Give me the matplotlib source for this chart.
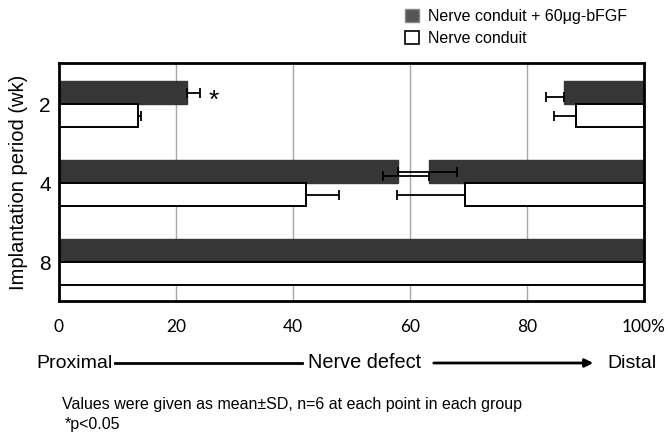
import matplotlib
matplotlib.use("Agg")
import matplotlib.pyplot as plt
from matplotlib.patches import Patch

plt.rcParams['font.family'] = ['Liberation Sans', 'DejaVu Sans']

# implantation period (wk)
periods = ["2", "4", "8"]

# regenerated length from the proximal stump (% of defect) and SD
bfgf_prox = [21.8, 58.0, 100.0]
bfgf_prox_sd = [2.3, 10.0, 0.0]
ctrl_prox = [13.5, 42.3, 100.0]
ctrl_prox_sd = [0.5, 5.6, 0.0]

# regeneration start from the distal side (% of defect) and SD
bfgf_dist = [86.3, 63.2, None]
bfgf_dist_sd = [3.1, 7.8, 0.0]
ctrl_dist = [88.4, 69.4, None]
ctrl_dist_sd = [3.8, 11.6, 0.0]

star_x = [26.5]
xticks = [0, 20, 40, 60, 80, 100]
xticklabels = ["0", "20", "40", "60", "80", "100%"]

W, H = 668, 437
fig = plt.figure(figsize=(W / 100, H / 100), dpi=100)
ax = fig.add_axes([59 / W, 1 - 301 / H, 585 / W, 238 / H])

dark = "#363636"
h = 0.29
ypos = list(range(len(periods)))
err_kw = dict(ecolor="black", elinewidth=1.3, capsize=3.5, capthick=1.3)

for i, y in enumerate(ypos):
    yd = y - h / 2
    yw = y + h / 2
    # proximal side bars
    ax.barh(yd, bfgf_prox[i], height=h, color=dark, edgecolor=dark, zorder=2)
    ax.barh(yw, ctrl_prox[i], height=h, color="white", edgecolor="black",
            linewidth=1.4, zorder=2)
    if bfgf_prox_sd[i] > 0:
        ax.errorbar(bfgf_prox[i], yd, xerr=[[0], [bfgf_prox_sd[i]]], fmt="none",
                    zorder=4, **err_kw)
    if ctrl_prox_sd[i] > 0:
        ax.errorbar(ctrl_prox[i], yw, xerr=[[0], [ctrl_prox_sd[i]]], fmt="none",
                    zorder=4, **err_kw)
    # distal side bars
    if bfgf_dist[i] is not None:
        ax.barh(yd, 100 - bfgf_dist[i], left=bfgf_dist[i], height=h, color=dark,
                edgecolor=dark, zorder=2)
        ax.errorbar(bfgf_dist[i], yd + 0.05, xerr=[[bfgf_dist_sd[i]], [0]],
                    fmt="none", zorder=4, **err_kw)
    if ctrl_dist[i] is not None:
        ax.barh(yw, 100 - ctrl_dist[i], left=ctrl_dist[i], height=h, color="white",
                edgecolor="black", linewidth=1.4, zorder=2)
        ax.errorbar(ctrl_dist[i], yw, xerr=[[ctrl_dist_sd[i]], [0]], fmt="none",
                    zorder=4, **err_kw)

ax.text(star_x[0], ypos[0] - h / 2 + 0.1, "*", fontsize=19, ha="center",
        va="center")

ax.set_xlim(0, 100)
ax.set_ylim(2.49, -0.52)
ax.set_yticks(ypos)
ax.set_yticklabels(periods, fontsize=15)
ax.set_xticks(xticks)
ax.set_xticklabels(xticklabels, fontsize=12.5, family=['Lato', 'DejaVu Sans'])
ax.tick_params(axis="both", length=0)
ax.tick_params(axis="x", pad=13)
ax.tick_params(axis="y", pad=6)
ax.grid(axis="x", color="#a8a8a8", linewidth=1, zorder=0)
ax.set_axisbelow(True)
for s in ax.spines.values():
    s.set_linewidth(2)
ax.set_ylabel("Implantation period (wk)", fontsize=14.5, labelpad=8)

handles = [Patch(facecolor="#555555", edgecolor="#888888"),
           Patch(facecolor="white", edgecolor="black", linewidth=1.2)]
fig.legend(handles, ["Nerve conduit + 60μg-bFGF", "Nerve conduit"],
           loc="upper left", bbox_to_anchor=(405 / W, 1 - 9 / H), frameon=False,
           fontsize=11.5, handlelength=0.85, handleheight=0.85, handletextpad=0.6,
           labelspacing=0.45, borderpad=0, borderaxespad=0)

# direction row below the axis
ty = 1 - 363 / H
fig.text(36 / W, ty, "Proximal", fontsize=14, va="center", ha="left")
fig.text(308 / W, ty, "Nerve defect", fontsize=14.3, va="center", ha="left")
fig.text(607 / W, ty, "Distal", fontsize=14, va="center", ha="left")
fig.add_artist(plt.Line2D([115 / W, 302 / W], [ty, ty], color="black", linewidth=2))
fig.add_artist(matplotlib.patches.FancyArrowPatch(
    (431 / W, ty), (596 / W, ty), transform=fig.transFigure,
    arrowstyle="-|>", mutation_scale=12, color="black", linewidth=2))

fig.text(62 / W, 1 - 404 / H,
         "Values were given as mean\u00b1SD, n=6 at each point in each group",
         fontsize=11.5, va="center", ha="left")
fig.text(65 / W, 1 - 424 / H, "*p<0.05", fontsize=11.5, va="center", ha="left")

fig.savefig("out.png", dpi=100)
